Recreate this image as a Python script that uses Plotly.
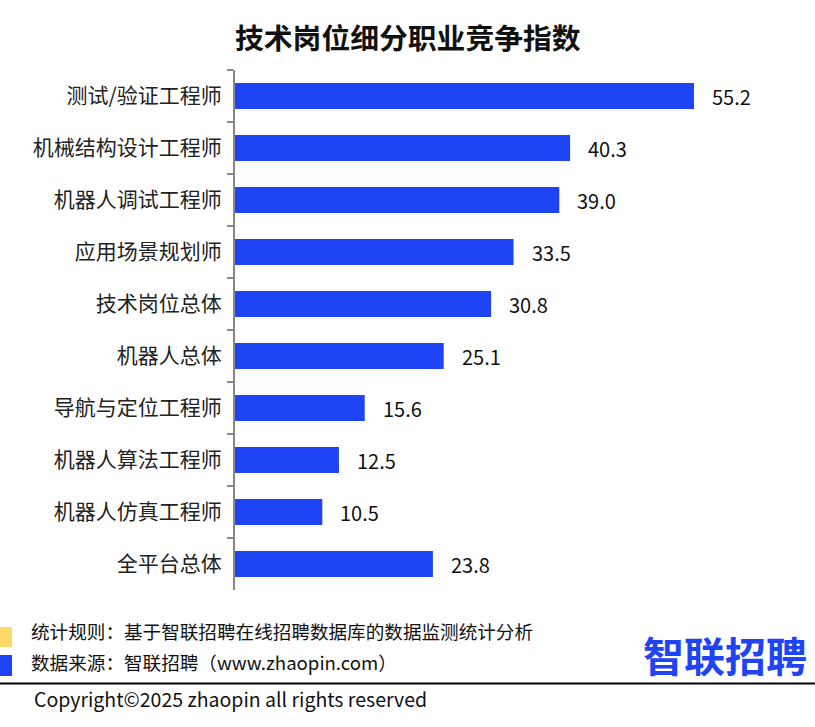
import plotly.graph_objects as go

categories = ["测试/验证工程师", "机械结构设计工程师", "机器人调试工程师", "应用场景规划师",
              "技术岗位总体", "机器人总体", "导航与定位工程师", "机器人算法工程师",
              "机器人仿真工程师", "全平台总体"]
values = [55.2, 40.3, 39.0, 33.5, 30.8, 25.1, 15.6, 12.5, 10.5, 23.8]

W, H = 815, 727
L, R, T, B = 235, 81, 70, 137
PW, PH = W - L - R, H - T - B
FONT = "Noto Sans CJK SC, Microsoft YaHei, sans-serif"
BLUE = "#1E44F4"

fig = go.Figure()
fig.add_trace(go.Bar(
    y=categories, x=values, orientation="h",
    marker=dict(color=BLUE, line=dict(width=0)),
    hoverinfo="skip",
))

for c, v in zip(categories, values):
    fig.add_annotation(x=v, y=c, text=f"{v:.1f}", showarrow=False,
                       xanchor="left", xshift=16, font=dict(size=20, color="#111", family=FONT))

def px(x):
    return (x - L) / PW

def py(y):
    return (H - B - y) / PH

shapes = [
    dict(type="rect", xref="paper", yref="paper", x0=px(0), x1=px(12), y0=py(647), y1=py(627),
         fillcolor="#FFD966", line=dict(width=0)),
    dict(type="rect", xref="paper", yref="paper", x0=px(0), x1=px(12), y0=py(676), y1=py(655),
         fillcolor=BLUE, line=dict(width=0)),
    dict(type="line", xref="paper", yref="paper", x0=px(0), x1=px(W), y0=py(683.5), y1=py(683.5),
         line=dict(color="#000", width=2)),
]

annos = [
    dict(text="<b>技术岗位细分职业竞争指数</b>", x=px(408), y=py(36), font=dict(size=28.8, color="#111")),
    dict(text="统计规则：基于智联招聘在线招聘数据库的数据监测统计分析", x=px(29), y=py(630), xanchor="left",
         font=dict(size=18.6, color="#111")),
    dict(text="数据来源：智联招聘（www.zhaopin.com）", x=px(29), y=py(661), xanchor="left",
         font=dict(size=18.6, color="#111")),
    dict(text="Copyright©2025 zhaopin all rights reserved", x=px(32), y=py(698), xanchor="left",
         font=dict(size=19.5, color="#111")),
    dict(text="<b>智联招聘</b>", x=px(725), y=py(654), font=dict(size=41, color=BLUE)),
]
for a in annos:
    a.update(xref="paper", yref="paper", showarrow=False, yanchor="middle")
    a.setdefault("xanchor", "center")
    a["font"]["family"] = FONT
    fig.add_annotation(**a)

fig.update_layout(
    width=W, height=H,
    margin=dict(l=L, r=R, t=T, b=B, pad=0),
    paper_bgcolor="white", plot_bgcolor="white",
    bargap=0.5, showlegend=False,
    font=dict(family=FONT, size=21, color="#222"),
    shapes=shapes,
    xaxis=dict(range=[0, PW / 8.315], visible=False, fixedrange=True),
    yaxis=dict(autorange="reversed", showline=True, linecolor="#888", linewidth=2,
               ticks="outside", tickson="boundaries", ticklen=6, tickcolor="#888", tickwidth=2,
               showgrid=False, zeroline=False, tickfont=dict(size=21, color="#222"),
               ticklabelstandoff=7, fixedrange=True),
)

fig.write_html("out.html", config={"displayModeBar": False},
               post_script="document.body.style.margin='0';")
